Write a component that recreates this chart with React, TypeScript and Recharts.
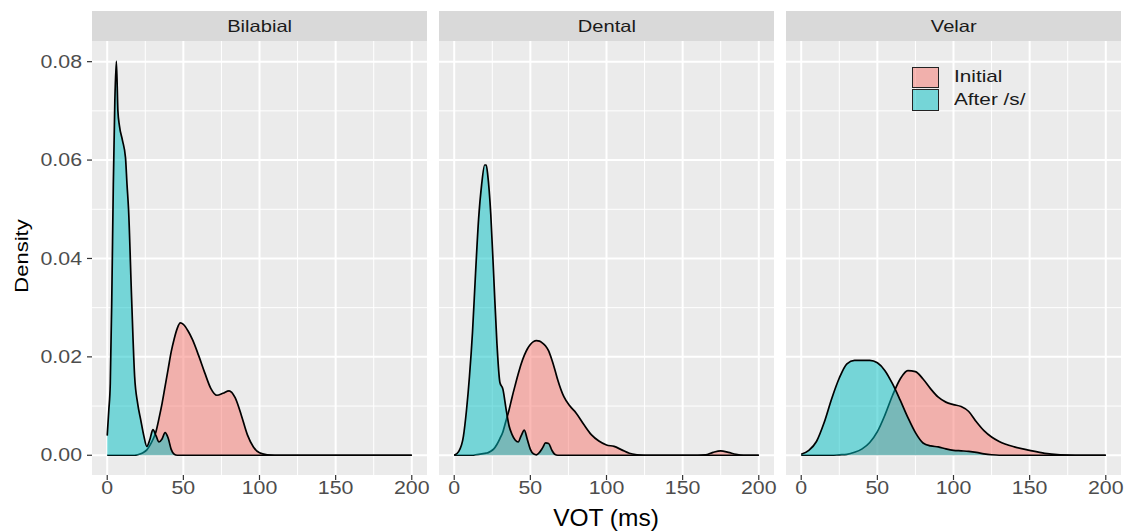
import { Area, AreaChart, CartesianGrid, XAxis, YAxis } from "recharts";

const facets = ["Bilabial", "Dental", "Velar"];
const seriesNames = ["Initial", "After /s/"];
const seriesColors = ["#F8766D", "#00BFC4"];
const xTicks = [0, 50, 100, 150, 200];
const xMinor = [25, 75, 125, 175];
const yTicks = [0, 0.02, 0.04, 0.06, 0.08];
const yMinor = [0.01, 0.03, 0.05, 0.07];

// Bilabial
const bilabialVot = [0, 1, 2, 3, 4, 5, 6, 7, 8, 10, 12, 13, 14, 16, 18, 20, 22, 24, 26, 28, 30, 32, 34, 36, 38, 40, 42, 44, 46, 48, 50, 53, 56, 60, 64, 68, 72, 76, 80, 84, 88, 92, 96, 100, 105, 110, 200];
const bilabialInitial = [0, 0, 0, 0, 0, 0, 0, 0, 0, 0, 0, 0, 0, 0, 0, 0.0001, 0.0003, 0.0006, 0.0011, 0.002, 0.0032, 0.0048, 0.0075, 0.0105, 0.014, 0.0175, 0.021, 0.0237, 0.0258, 0.0269, 0.0266, 0.0253, 0.0235, 0.0203, 0.0168, 0.0136, 0.0122, 0.0126, 0.0131, 0.0117, 0.0082, 0.0042, 0.0017, 0.0005, 0.0001, 0, 0];
const bilabialAfterS = [0.004, 0.009, 0.0146, 0.032, 0.055, 0.072, 0.0801, 0.07, 0.067, 0.064, 0.0605, 0.055, 0.05, 0.032, 0.016, 0.0105, 0.0072, 0.004, 0.0018, 0.0032, 0.0052, 0.004, 0.0027, 0.0033, 0.0046, 0.0035, 0.0012, 0.0002, 0, 0, 0, 0, 0, 0, 0, 0, 0, 0, 0, 0, 0, 0, 0, 0, 0, 0, 0];

// Dental
const dentalVot = [0, 3, 6, 8, 10, 12, 14, 16, 18, 20, 21, 22, 24, 26, 28, 30, 32, 34, 36, 38, 40, 42, 44, 46, 48, 50, 52, 54, 56, 58, 60, 62, 64, 66, 68, 72, 76, 80, 85, 90, 95, 100, 105, 110, 115, 120, 125, 160, 165, 170, 175, 180, 185, 190, 200];
const dentalInitial = [0, 0, 0, 0, 0, 0, 0.0001, 0.0002, 0.0003, 0.0004, 0.00045, 0.0005, 0.0008, 0.0013, 0.0022, 0.0034, 0.0048, 0.007, 0.0092, 0.0118, 0.0142, 0.0165, 0.0186, 0.0203, 0.0216, 0.0225, 0.0231, 0.0233, 0.0232, 0.0228, 0.0222, 0.0212, 0.0195, 0.0175, 0.0153, 0.0119, 0.01, 0.0086, 0.0063, 0.0042, 0.0029, 0.0021, 0.0018, 0.0011, 0.0004, 0.0001, 0, 0, 0.0001, 0.0006, 0.0009, 0.0006, 0.0002, 0, 0];
const dentalAfterS = [0, 0.0008, 0.0038, 0.009, 0.016, 0.025, 0.037, 0.048, 0.055, 0.059, 0.059, 0.057, 0.049, 0.036, 0.023, 0.0148, 0.0134, 0.0095, 0.006, 0.0042, 0.0031, 0.0027, 0.004, 0.0051, 0.0032, 0.0012, 0.0003, 0.0001, 0.0006, 0.0015, 0.0025, 0.0024, 0.0011, 0.0002, 0, 0, 0, 0, 0, 0, 0, 0, 0, 0, 0, 0, 0, 0, 0, 0, 0, 0, 0, 0, 0];

// Velar
const velarVot = [0, 5, 10, 15, 20, 25, 30, 35, 40, 45, 50, 55, 60, 65, 70, 75, 80, 85, 90, 95, 100, 105, 110, 115, 120, 125, 130, 140, 150, 160, 170, 180, 200];
const velarInitial = [0, 0, 0, 0, 0, 0.0001, 0.0002, 0.0006, 0.0013, 0.0026, 0.0048, 0.0082, 0.0122, 0.0155, 0.0172, 0.017, 0.0155, 0.0135, 0.0118, 0.0108, 0.0103, 0.0099, 0.0089, 0.0068, 0.005, 0.0037, 0.0028, 0.0017, 0.001, 0.0004, 0.0001, 0, 0];
const velarAfterS = [0.0002, 0.001, 0.0028, 0.0066, 0.0115, 0.0157, 0.0186, 0.0193, 0.0193, 0.0193, 0.0188, 0.0172, 0.0145, 0.0112, 0.0077, 0.0046, 0.0025, 0.0019, 0.0017, 0.0013, 0.001, 0.0009, 0.0008, 0.0006, 0.0003, 0.0001, 0, 0, 0, 0, 0, 0, 0];

const panelData = [
  { vot: bilabialVot, initial: bilabialInitial, afterS: bilabialAfterS },
  { vot: dentalVot, initial: dentalInitial, afterS: dentalAfterS },
  { vot: velarVot, initial: velarInitial, afterS: velarAfterS },
];

const FONT = "'Liberation Sans', Arial, sans-serif";
const STRETCH = 1.22; // the reference text is drawn a little wide
const PANEL_W = 335;
const PANEL_H = 434;
const STRIP_H = 30;
const Y_AXIS_W = 92;
const RIGHT_PAD = 24; // room for the last x tick label
const panelLefts = [92, 439, 786];

function XTick(props: any) {
  const { x, y, payload } = props;
  return (
    <g transform={`translate(${x},${y})`}>
      <text x={0} y={0} dy="0.71em" textAnchor="middle" transform={`scale(${STRETCH},1)`} fill="#4d4d4d" fontSize={17.5} fontFamily={FONT}>
        {payload.value}
      </text>
    </g>
  );
}

function YTick(props: any) {
  const { x, y, payload } = props;
  return (
    <g transform={`translate(${x},${y})`}>
      <text x={0} y={0} dy="0.355em" textAnchor="end" transform={`scale(${STRETCH},1)`} fill="#4d4d4d" fontSize={17.5} fontFamily={FONT}>
        {payload.value.toFixed(2)}
      </text>
    </g>
  );
}

function LegendBox() {
  return (
    <div style={{ position: "absolute", left: 912, top: 66, fontFamily: FONT, fontSize: 17, color: "#1a1a1a" }}>
      {seriesNames.map((name, i) => (
        <div key={name} style={{ display: "flex", alignItems: "center", height: 22.5 }}>
          <div
            style={{
              width: 25,
              height: 19.5,
              border: "1.8px solid #222",
              backgroundColor: i === 0 ? "rgba(248,118,109,0.5)" : "rgba(0,191,196,0.5)",
            }}
          />
          <span style={{ marginLeft: 15, display: "inline-block", transform: `scaleX(${STRETCH})`, transformOrigin: "left center" }}>
            {name}
          </span>
        </div>
      ))}
    </div>
  );
}

function Panel({ index }: { index: number }) {
  const d = panelData[index];
  const rows = d.vot.map((v, i) => ({ vot: v, initial: d.initial[i], afterS: d.afterS[i] }));
  const showY = index === 0;
  const left = showY ? 0 : panelLefts[index];
  const width = (showY ? Y_AXIS_W + PANEL_W : PANEL_W) + RIGHT_PAD;
  return (
    <div style={{ position: "absolute", left, top: 11, width }}>
      <div
        style={{
          marginLeft: showY ? Y_AXIS_W : 0,
          width: PANEL_W,
          height: STRIP_H,
          background: "#d9d9d9",
          color: "#1a1a1a",
          fontFamily: FONT,
          fontSize: 16.5,
          lineHeight: `${STRIP_H}px`,
          textAlign: "center",
        }}
      >
        <span style={{ display: "inline-block", transform: `scaleX(${STRETCH})` }}>{facets[index]}</span>
      </div>
      <AreaChart width={width} height={PANEL_H + 32} data={rows} margin={{ top: 0, right: RIGHT_PAD, bottom: 0, left: 0 }}>
        <CartesianGrid fill="#ebebeb" stroke="#ffffff" strokeWidth={1} verticalValues={xMinor} horizontalValues={yMinor} />
        <CartesianGrid stroke="#ffffff" strokeWidth={2} verticalValues={xTicks} horizontalValues={yTicks} />
        <XAxis
          dataKey="vot"
          type="number"
          domain={[-10, 210]}
          ticks={xTicks}
          allowDataOverflow
          axisLine={false}
          tickSize={5}
          tickMargin={2}
          height={32}
          tickLine={{ stroke: "#333333", strokeWidth: 1.2 }}
          tick={<XTick />}
        />
        <YAxis
          type="number"
          domain={[-0.00401, 0.0842]}
          ticks={yTicks}
          allowDataOverflow
          hide={!showY}
          width={Y_AXIS_W}
          axisLine={false}
          tickSize={5}
          tickMargin={5}
          tickLine={{ stroke: "#333333", strokeWidth: 1.2 }}
          tick={<YTick />}
        />
        <Area
          dataKey="initial"
          name={seriesNames[0]}
          type="monotone"
          baseValue={0}
          stroke="#000000"
          strokeWidth={1.7}
          fill={seriesColors[0]}
          fillOpacity={0.5}
          isAnimationActive={false}
          dot={false}
          activeDot={false}
        />
        <Area
          dataKey="afterS"
          name={seriesNames[1]}
          type="monotone"
          baseValue={0}
          stroke="#000000"
          strokeWidth={1.7}
          fill={seriesColors[1]}
          fillOpacity={0.5}
          isAnimationActive={false}
          dot={false}
          activeDot={false}
        />
      </AreaChart>
    </div>
  );
}

export default function App() {
  return (
    <div style={{ position: "absolute", left: 0, top: 0, width: 1127, height: 531, background: "#ffffff", overflow: "hidden" }}>
      <Panel index={0} />
      <Panel index={1} />
      <Panel index={2} />
      <LegendBox />
      <div
        style={{
          position: "absolute",
          left: 22,
          top: 256,
          transform: "translate(-50%, -50%) rotate(-90deg) scaleY(0.85)",
          fontFamily: FONT,
          fontSize: 22,
          color: "#000",
          whiteSpace: "nowrap",
        }}
      >
        Density
      </div>
      <div
        style={{
          position: "absolute",
          left: 606,
          top: 518,
          transform: "translate(-50%, -50%)",
          fontFamily: FONT,
          fontSize: 24.5,
          color: "#000",
          whiteSpace: "nowrap",
        }}
      >
        VOT (ms)
      </div>
    </div>
  );
}
